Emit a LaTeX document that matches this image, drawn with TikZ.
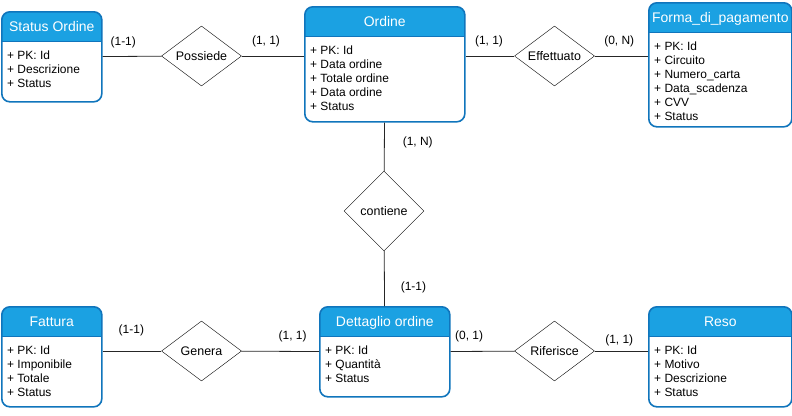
\documentclass[tikz,border=0pt]{standalone}
\usepackage{fontspec}
\setmainfont{Liberation Sans}
\usepackage{tikz}
\usetikzlibrary{positioning}
\usetikzlibrary{shapes.geometric}
\usetikzlibrary{calc}
\definecolor{testa}{HTML}{1BA1E2}
\definecolor{bordo}{HTML}{1075BC}

\begin{document}
\begin{tikzpicture}[x=1bp,y=-1bp,
	entita/.style={draw=bordo, line width=1.6bp, rounded corners=8bp, fill=white, anchor=north west, inner sep=0,
		path picture={\fill[testa, sharp corners] (path picture bounding box.north west) rectangle ([yshift=-30bp]path picture bounding box.north east);
			\draw[bordo, line width=1bp, sharp corners] ([yshift=-30bp]path picture bounding box.north west) -- ([yshift=-30bp]path picture bounding box.north east);}},
	titolo/.style={text=white, font=\fontsize{14}{16}\selectfont, inner sep=0, text height=10bp, text depth=0bp},
	campi/.style={align=left, font=\fontsize{12}{14}\selectfont, inner sep=0},
	rel/.style={draw, shape=diamond, aspect=1.33, minimum width=80bp, minimum height=60bp, inner sep=0, font=\fontsize{12.5}{14}\selectfont},
	card/.style={font=\fontsize{12}{14}\selectfont, inner sep=0},
	linea/.style={draw=black!85, line width=.8bp}]
	\useasboundingbox (0,0) rectangle (792,415);
	\path
	(1,11) node[entita, minimum width=100bp, minimum height=90bp](stato) {}
	(304,6) node[entita, minimum width=160bp, minimum height=115bp](ordine) {}
	(648,2) node[entita, minimum width=143bp, minimum height=124bp](pagamento) {}
	(1,306) node[entita, minimum width=100bp, minimum height=100bp](fattura) {}
	(319,306) node[entita, minimum width=130bp, minimum height=90bp](dettaglio) {}
	(648,306) node[entita, minimum width=143bp, minimum height=100bp](reso) {};

	\node[titolo](stato-t) at ([yshift=-15bp]stato.north) {Status Ordine};
	\node[titolo](ordine-t) at ([yshift=-15bp]ordine.north) {Ordine};
	\node[titolo](pagamento-t) at ([yshift=-15bp]pagamento.north) {Forma\_di\_pagamento};
	\node[titolo](fattura-t) at ([yshift=-15bp]fattura.north) {Fattura};
	\node[titolo](dettaglio-t) at ([yshift=-15bp]dettaglio.north) {Dettaglio ordine};
	\node[titolo](reso-t) at ([yshift=-15bp]reso.north) {Reso};

	\node[campi, below right=39.5bp and 6bp of stato.north west](stato-c) {+ PK: Id\\+ Descrizione\\+ Status};
	\node[campi, below right=39.5bp and 6bp of ordine.north west](ordine-c) {+ PK: Id\\+ Data ordine\\+ Totale ordine\\+ Data ordine\\+ Status};
	\node[campi, below right=39.5bp and 6bp of pagamento.north west](pagamento-c) {+ PK: Id\\+ Circuito\\+ Numero\_carta\\+ Data\_scadenza\\+ CVV\\+ Status};
	\node[campi, below right=39.5bp and 6bp of fattura.north west](fattura-c) {+ PK: Id\\+ Imponibile\\+ Totale\\+ Status};
	\node[campi, below right=39.5bp and 6bp of dettaglio.north west](dettaglio-c) {+ PK: Id\\+ Quantità\\+ Status};
	\node[campi, below right=39.5bp and 6bp of reso.north west](reso-c) {+ PK: Id\\+ Motivo\\+ Descrizione\\+ Status};

	\path
	(201.5,56) node[rel](possiede) {Possiede}
	(554.5,56) node[rel](effettuato) {Effettuato}
	(384,211) node[rel, aspect=1, minimum height=80bp](contiene) {contiene}
	(201.5,351) node[rel](genera) {Genera}
	(554.5,351) node[rel](riferisce) {Riferisce};

	\draw[linea] (stato) to node[card, above=8.4bp, pos=.35](k1) {(1-1)} (possiede);
	\draw[linea] (possiede) to node[card, above=8.4bp, pos=.39](k2) {(1, 1)} (possiede -| ordine.west);
	\draw[linea] (effettuato -| ordine.east) to node[card, above=8.4bp, pos=.48](k3) {(1, 1)} (effettuato);
	\draw[linea] (effettuato) to node[card, above=8.4bp, pos=.46](k4) {(0, N)} (effettuato -| pagamento.west);
	\draw[linea] (ordine) to node[card, right=18bp, pos=.4](k5) {(1, N)} (contiene);
	\draw[linea] (contiene) to node[card, right=16bp, pos=.67](k6) {(1-1)} (dettaglio);
	\draw[linea] (genera -| fattura.east) to node[card, above=14.4bp, pos=.49](k7) {(1-1)} (genera);
	\draw[linea] (genera) to node[card, above=9.4bp, pos=.66](k8) {(1, 1)} (dettaglio);
	\draw[linea] (dettaglio) to node[card, above=9.4bp, pos=.29](k9) {(0, 1)} (riferisce);
	\draw[linea] (riferisce) to node[card, above=4.4bp, pos=.46](k10) {(1, 1)} (riferisce -| reso.west);
\end{tikzpicture}
\end{document}
